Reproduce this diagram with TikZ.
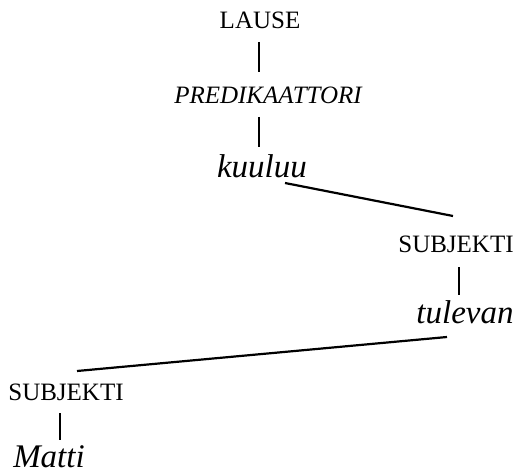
\documentclass[tikz,border=0pt]{standalone}
\usepackage{fontspec}
\setmainfont{Liberation Serif}
\begin{document}
\begin{tikzpicture}[x=1pt,y=-1pt,
  lbl/.style={inner sep=0pt, anchor=base, font=\fontsize{25}{29}\selectfont},
  itl/.style={inner sep=0pt, anchor=base, font=\fontsize{25}{29}\selectfont\itshape},
  word/.style={inner sep=0pt, anchor=base, font=\fontsize{33}{37}\selectfont\itshape},
  thin/.style={line width=1.3pt},
  thick/.style={line width=2.2pt}]
\useasboundingbox (0,0) rectangle (519,476);
\node[lbl] (lause) at (260,29) {LAUSE};
\node[itl] (pred) at (268,103) {PREDIKAATTORI};
\node[word] (kuuluu) at (262,177) {kuuluu};
\node[lbl] (subj1) at (456,252) {SUBJEKTI};
\node[word] (tulevan) at (465,323) {tulevan};
\node[lbl] (subj2) at (66,400) {SUBJEKTI};
\node[word] (matti) at (49,467) {Matti};
\coordinate (a1) at (259,42); \coordinate (a2) at (259,72);
\coordinate (b1) at (259,117); \coordinate (b2) at (259,147);
\coordinate (c1) at (285,183); \coordinate (c2) at (453,216);
\coordinate (d1) at (459,267); \coordinate (d2) at (459,295);
\coordinate (e1) at (447,337); \coordinate (e2) at (77,371);
\coordinate (f1) at (60,413); \coordinate (f2) at (60,440);
\draw[thin] (a1) -- (a2);
\draw[thin] (b1) -- (b2);
\draw[thick] (c1) -- (c2);
\draw[thin] (d1) -- (d2);
\draw[thick] (e1) -- (e2);
\draw[thin] (f1) -- (f2);
\end{tikzpicture}
\end{document}
